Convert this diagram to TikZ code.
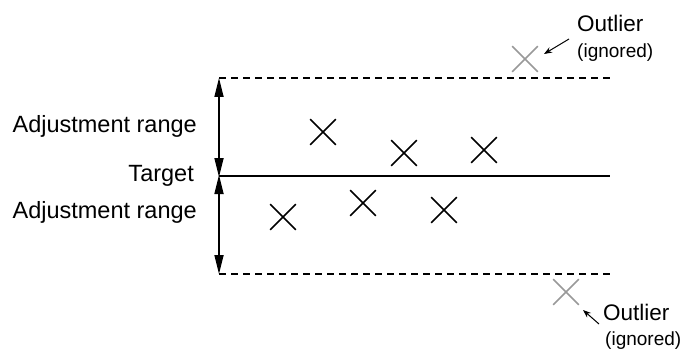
\documentclass[tikz,border=0pt]{standalone}
\usepackage{fontspec}
\setmainfont{Liberation Sans}
\usetikzlibrary{arrows.meta,shapes.misc}
\tikzset{
  sample/.style={draw, cross out, minimum size=24pt, inner sep=0pt, line width=1.7pt},
  outlier/.style={sample, draw=black!40},
  lab/.style={font=\fontsize{23.5}{28}\selectfont, inner sep=0pt},
  outlab/.style={font=\fontsize{22.5}{27}\selectfont, inner sep=0pt, anchor=base west},
  ignlab/.style={font=\fontsize{19}{23}\selectfont, inner sep=0pt, anchor=base west},
  limit/.style={dashed, dash pattern=on 7pt off 5pt, line width=1.6pt},
  adjarrow/.style={{Triangle[length=19pt,width=9pt]}-{Triangle[length=19pt,width=9pt]}, line width=1.7pt},
  pointer/.style={-{Stealth[length=8pt,width=6pt]}, line width=1pt}
}
\begin{document}
\begin{tikzpicture}[x=1pt,y=-1pt]
\useasboundingbox (0,0) rectangle (684,350);
% limits and target
\coordinate (topL) at (219,78);
\coordinate (topR) at (610,78);
\coordinate (tgtL) at (219,176);
\coordinate (tgtR) at (610,176);
\coordinate (botL) at (219,274);
\coordinate (botR) at (610,274);
\draw[limit] (topL) -- (topR);
\draw[limit] (botL) -- (botR);
\draw[line width=2.2pt] (tgtL) -- (tgtR);
\draw[adjarrow] ([yshift=-1pt]tgtL) -- (topL);
\draw[adjarrow] ([yshift=1pt]tgtL) -- (botL);
% left labels
\node[lab, anchor=base east] (adjup) at (197,132) {Adjustment range};
\node[lab, anchor=base east] (target) at (194,181) {Target};
\node[lab, anchor=base east] (adjdown) at (197,218) {Adjustment range};
% samples
\node[sample] (s1) at (323,132) {};
\node[sample] (s2) at (404,153) {};
\node[sample] (s3) at (484,150) {};
\node[sample] (s4) at (283,217) {};
\node[sample] (s5) at (363,203) {};
\node[sample] (s6) at (444,210) {};
% outliers
\node[outlier] (o1) at (525,59) {};
\node[outlier] (o2) at (566,292) {};
\node[outlab] (ol1) at (577,32) {Outlier};
\node[ignlab] (ig1) at (577,58) {(ignored)};
\node[outlab] (ol2) at (603,320) {Outlier};
\node[ignlab] (ig2) at (605,345) {(ignored)};
\coordinate (p1) at (569,39);
\coordinate (q1) at (544,54);
\coordinate (p2) at (599,324);
\coordinate (q2) at (583,310);
\draw[pointer] (p1) -- (q1);
\draw[pointer] (p2) -- (q2);
\end{tikzpicture}
\end{document}
